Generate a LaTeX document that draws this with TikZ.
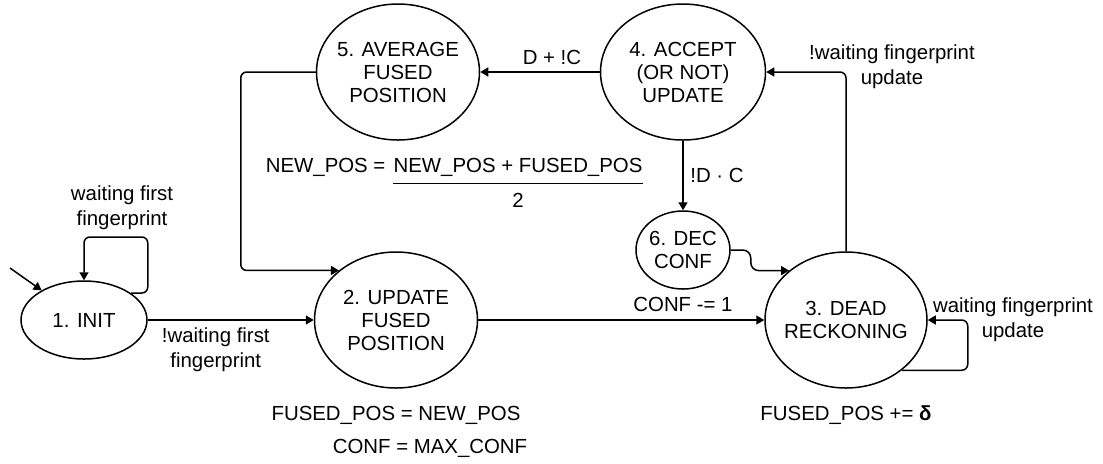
\documentclass[tikz,border=0pt]{standalone}
\usepackage{fontspec}
\setmainfont{Liberation Sans}
\usepackage{tikz}
\usetikzlibrary{arrows.meta, positioning, shapes.geometric}

\begin{document}
\begin{tikzpicture}[x=0.5pt, y=-0.5pt, line width=0.75pt,
        font=\fontsize{10.2}{12.5}\selectfont,
        bubble/.style={ellipse, draw, align=center, inner sep=-3pt,
            font=\fontsize{10.2}{11.5}\selectfont},
        >={Triangle[length=4pt,width=4.5pt]}]
        \useasboundingbox (0,0) rectangle (1103,463);

        %% states
        \node (init)[bubble, minimum width=63pt, minimum height=39pt] at (84,320) {1. INIT};
        \node (upd)[bubble, minimum width=81.5pt, minimum height=68pt] at (396,320) {2. UPDATE\\FUSED\\POSITION};
        \node (dead)[bubble, minimum width=81pt, minimum height=68pt] at (846,320) {3. DEAD\\RECKONING};
        \node (accept)[bubble, minimum width=82.5pt, minimum height=68pt] at (683,72) {4. ACCEPT\\(OR NOT)\\UPDATE};
        \node (avg)[bubble, minimum width=81.5pt, minimum height=68pt] at (398,72) {5. AVERAGE\\FUSED\\POSITION};
        \node (dec)[bubble, minimum width=47pt, minimum height=39pt] at (683,250) {6. DEC\\CONF};

        %% actions
        \node (updact)[below=5pt of upd] {FUSED\_POS = NEW\_POS};
        \node (confact) at (430,448) {CONF = MAX\_CONF};
        \node (deadact)[below=5pt of dead] {FUSED\_POS += {\bfseries δ}};
        \node (decact)[below=0pt of dec] {CONF -= 1};
        \node (avgnum)[inner xsep=0pt] at (518,167) {NEW\_POS + FUSED\_POS};
        \node (avgeq)[left=0pt of avgnum] {NEW\_POS =};
        \node (avgden)[below=1pt of avgnum] {2};
        \draw (avgnum.south west) -- (avgnum.south east);

        %% transitions
        \coordinate (start) at (10,268);
        \draw[->] (start) -- (init.145);
        \draw[->, rounded corners=3pt] (init.30) -| ++(17,-56) -| (init.north);
        \node (initloop)[align=center] at (122,208) {waiting first\\fingerprint};
        \draw[->] (init) -- node[below, align=center, pos=.41] {!waiting first\\fingerprint} (upd);
        \draw[->] (upd) -- (dead);
        \draw[->, rounded corners=3pt] (dead.-42) -| ([xshift=20pt]dead.east) -- (dead.east);
        \node (deadloop)[align=center] at (1013,320) {waiting fingerprint\\update};
        \draw[->, rounded corners=3pt] (dead.north) |- (accept.east);
        \node (acceptlbl)[align=center] at (892,67) {!waiting fingerprint\\update};
        \draw[->] (accept) -- node[above, pos=.4] {D + !C} (avg);
        \draw[->] (accept) -- node[right] {!D · C} (dec);
        \draw[->, rounded corners=4pt] (dec.east) -- ++(20,0) |- (dead.139);
        \draw[->, rounded corners=3pt] (avg.west) -- ++(-75,0) |- (upd.139);

      \end{tikzpicture}
\end{document}
